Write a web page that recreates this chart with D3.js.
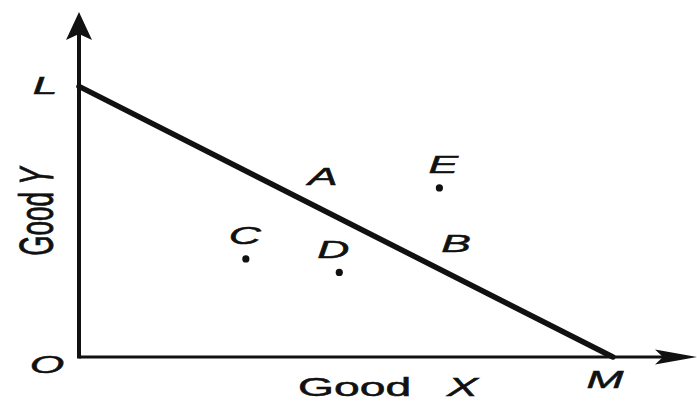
<!DOCTYPE html>
<html>
<head>
<meta charset="utf-8">
<script src="https://cdn.jsdelivr.net/npm/d3@7"></script>
<style>
  html, body { margin: 0; padding: 0; background: #fff; }
  svg { display: block; }
  text { font-family: "Liberation Sans", Arial, sans-serif; fill: #111; stroke: #111; stroke-width: 0.5; }
</style>
</head>
<body>
<svg id="chart" width="697" height="403"></svg>
<script>
// Budget line L–M in the (Good X, Good Y) plane with bundles A–E
const intercepts = { L: [0, 8], M: [8, 0] };
const pointNames = ["A", "B", "C", "D", "E"];
const pointX = [3.1, 5.2, 2.5, 3.9, 5.4];
const pointY = [4.9, 2.8, 2.9, 2.5, 5.0];
const pointDot = [false, false, true, true, true];
const axisTitles = { x: ["Good", "X"], y: ["Good", "Y"] };
const axisExtent = { x: 9.26, y: 10.2 };

const svg = d3.select("#chart");
const x = d3.scaleLinear().domain([0, axisExtent.x]).range([79, 697]);
const y = d3.scaleLinear().domain([0, axisExtent.y]).range([357, 12]);
const stretch = 1.85;

// axis lines (no ticks)
const gx = svg.append("g").attr("transform", `translate(0,${y(0)})`)
  .call(d3.axisBottom(x).tickValues([]).tickSizeOuter(0));
gx.select(".domain").attr("stroke", "#111").attr("stroke-width", 3).attr("d", `M${x(0)},0H${x(axisExtent.x) - 30}`);
const gy = svg.append("g").attr("transform", `translate(${x(0)},0)`)
  .call(d3.axisLeft(y).tickValues([]).tickSizeOuter(0));
gy.select(".domain").attr("stroke", "#111").attr("stroke-width", 4).attr("d", `M0,${y(0) + 1.5}V${y(axisExtent.y) + 20}`);

// arrowheads
const tx = x(axisExtent.x), ty = y(0);
svg.append("path")
  .attr("d", `M${tx},${ty} L${tx - 42},${ty - 7.5} L${tx - 34},${ty} L${tx - 42},${ty + 7.5} Z`)
  .attr("fill", "#111");
const ux = x(0), uy = y(axisExtent.y);
svg.append("path")
  .attr("d", `M${ux},${uy} L${ux + 13},${uy + 28} L${ux},${uy + 22} L${ux - 13},${uy + 28} Z`)
  .attr("fill", "#111");

// budget line
svg.append("line")
  .attr("x1", x(intercepts.L[0])).attr("y1", y(intercepts.L[1]))
  .attr("x2", x(intercepts.M[0])).attr("y2", y(intercepts.M[1]))
  .attr("stroke", "#111").attr("stroke-width", 5.5).attr("stroke-linecap", "round");

// stretched label helper
function label(cx, by, str, size, italic) {
  return svg.append("text")
    .attr("transform", `translate(${cx},${by}) scale(${stretch},1)`)
    .attr("text-anchor", "middle")
    .attr("font-size", size)
    .attr("font-style", italic ? "italic" : "normal")
    .text(str);
}

// intercept and origin labels
label(x(0) - 34, y(intercepts.L[1]) + 8, "L", 24, true);
label(x(0) - 32, y(0) + 16, "O", 24, true);
label(x(intercepts.M[0]) - 8, y(0) + 31, "M", 24, true);

// bundle points
const offsets = { A: [37, -6], B: [30, -10], C: [-1, -15], D: [-6, -14], E: [4, -15] };
pointNames.forEach((n, i) => {
  const px = x(pointX[i]), py = y(pointY[i]);
  if (pointDot[i]) {
    svg.append("circle").attr("cx", px).attr("cy", py).attr("r", 3.6).attr("fill", "#111");
  }
  label(px + offsets[n][0], py + offsets[n][1], n, 24, true);
});

// axis titles
const xt = svg.append("text")
  .attr("transform", `translate(${(x(0) + x(axisExtent.x)) / 2 + 0},${y(0) + 39}) scale(${stretch},1)`)
  .attr("text-anchor", "middle").attr("font-size", 25);
xt.append("tspan").text(axisTitles.x[0] + "\u2002 ");
xt.append("tspan").attr("font-style", "italic").text(axisTitles.x[1]);

const yt = svg.append("text")
  .attr("transform", `translate(${x(0) - 26},${y(4.3)}) scale(${stretch},1) rotate(-90)`)
  .attr("text-anchor", "middle").attr("font-size", 26);
yt.append("tspan").text(axisTitles.y[0] + " ");
yt.append("tspan").attr("font-style", "italic").text(axisTitles.y[1]);
</script>
</body>
</html>
